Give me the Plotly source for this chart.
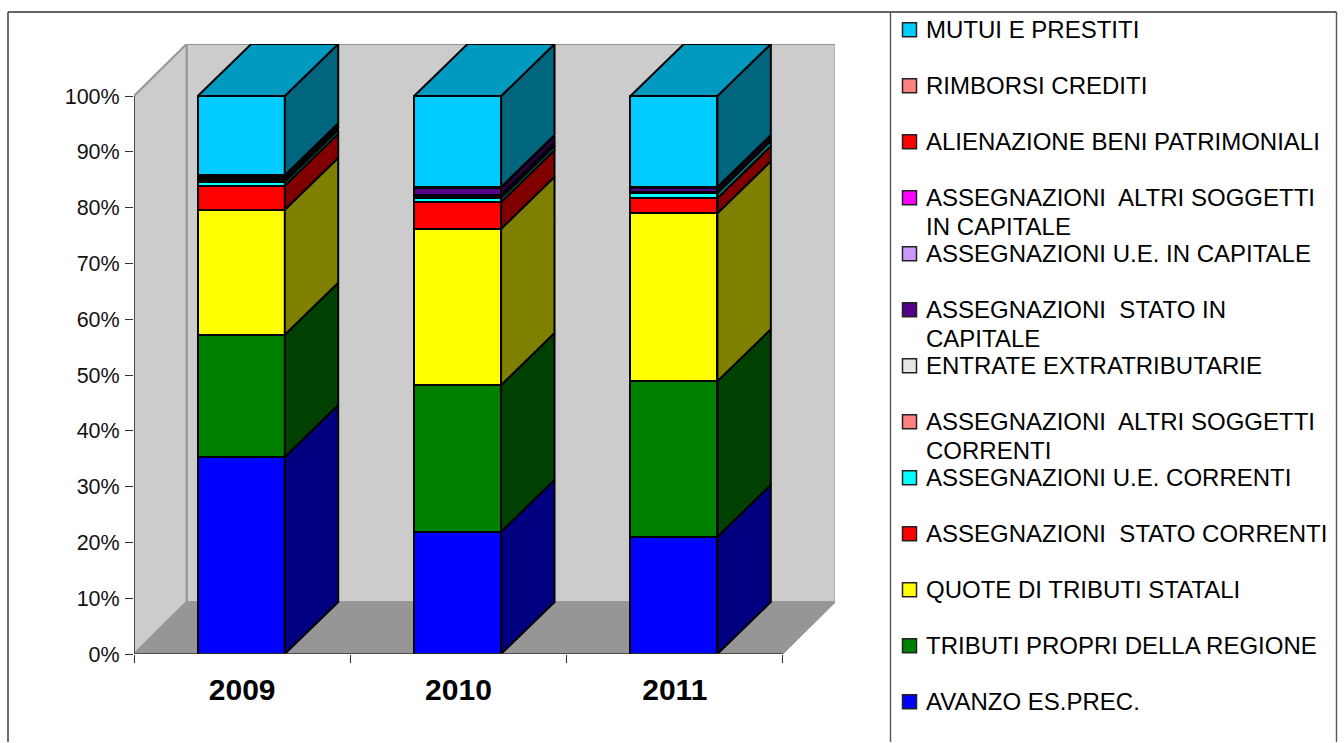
import plotly.graph_objects as go

YEARS = ["2009", "2010", "2011"]
Y_TICKS = [0, 10, 20, 30, 40, 50, 60, 70, 80, 90, 100]
Y_LABELS = ["0%", "10%", "20%", "30%", "40%", "50%", "60%", "70%", "80%", "90%", "100%"]

AVANZO = [35.3, 21.9, 21.0]
TRIBUTI_PROPRI = [21.9, 26.3, 27.9]
QUOTE_TRIBUTI = [22.4, 28.0, 30.1]
STATO_CORRENTI = [4.3, 4.8, 2.7]
UE_CORRENTI = [0.7, 0.7, 0.9]
ALTRI_CORRENTI = [0.15, 0.3, 0.1]
EXTRATRIBUTARIE = [0.15, 0.3, 0.1]
STATO_CAPITALE = [0.2, 1.2, 0.7]
UE_CAPITALE = [0.2, 0.1, 0.1]
ALTRI_CAPITALE = [0.2, 0.05, 0.05]
ALIENAZIONE = [0.1, 0.05, 0.05]
RIMBORSI = [0.2, 0.0, 0.0]
MUTUI = [14.2, 16.3, 16.3]

SERIES = [
    ("AVANZO ES.PREC.", AVANZO, "#0000FF"),
    ("TRIBUTI PROPRI DELLA REGIONE", TRIBUTI_PROPRI, "#008000"),
    ("QUOTE DI TRIBUTI STATALI", QUOTE_TRIBUTI, "#FFFF00"),
    ("ASSEGNAZIONI\u00a0 STATO CORRENTI", STATO_CORRENTI, "#FF0000"),
    ("ASSEGNAZIONI U.E. CORRENTI", UE_CORRENTI, "#00FFFF"),
    ("ASSEGNAZIONI\u00a0 ALTRI SOGGETTI<br>CORRENTI", ALTRI_CORRENTI, "#FF8080"),
    ("ENTRATE EXTRATRIBUTARIE", EXTRATRIBUTARIE, "#E6E6E6"),
    ("ASSEGNAZIONI\u00a0 STATO IN<br>CAPITALE", STATO_CAPITALE, "#550088"),
    ("ASSEGNAZIONI U.E. IN CAPITALE", UE_CAPITALE, "#CC99FF"),
    ("ASSEGNAZIONI\u00a0 ALTRI SOGGETTI<br>IN CAPITALE", ALTRI_CAPITALE, "#FF00FF"),
    ("ALIENAZIONE BENI PATRIMONIALI", ALIENAZIONE, "#FF0000"),
    ("RIMBORSI CREDITI", RIMBORSI, "#FF8080"),
    ("MUTUI E PRESTITI", MUTUI, "#00CCFF"),
]

W, H = 1344, 743
FONT = "Liberation Sans, Arial, sans-serif"
BAR_W = 0.402
BAR_SHIFT = -0.004  # bars sit very slightly left of the category centre
DX_BAR = 0.247      # bar depth in x-axis units
DX = 0.243          # wall depth in x-axis units
DY = 9.32           # depth in y-axis units
X_LEFT, X_RIGHT = -0.5, 2.5
Y_TOP = 100


def px(x):
    return x / W


def py(y):
    return 1 - y / H


def shade(color, k):
    r, g, b = (int(color[i:i + 2], 16) for i in (1, 3, 5))
    return f"rgb({round(r * k)},{round(g * k)},{round(b * k)})"


fig = go.Figure()
cats = list(range(len(YEARS)))

# front faces
for name, vals, color in SERIES:
    fig.add_trace(go.Bar(
        x=cats, y=vals, name=name.replace("<br>", " "), width=BAR_W,
        offset=-BAR_W / 2 + BAR_SHIFT,
        marker=dict(color=color, line=dict(color="#000000", width=2)),
        showlegend=False,
    ))

# side and top faces, derived from the same values
base = [0.0] * len(YEARS)
for name, vals, color in SERIES:
    xs, ys = [], []
    for j in cats:
        xr = j + BAR_W / 2 + BAR_SHIFT
        b, t = base[j], base[j] + vals[j]
        xs += [xr, xr + DX_BAR, xr + DX_BAR, xr, xr, None]
        ys += [b, b + DY, t + DY, t, b, None]
        base[j] = t
    fig.add_trace(go.Scatter(
        x=xs, y=ys, mode="lines", fill="toself", fillcolor=shade(color, 0.5),
        line=dict(color="#000000", width=2), hoverinfo="skip", showlegend=False,
    ))
xs, ys = [], []
for j in cats:
    xl, xr = j - BAR_W / 2 + BAR_SHIFT, j + BAR_W / 2 + BAR_SHIFT
    t = base[j]
    xs += [xl, xr, xr + DX_BAR, xl + DX_BAR, xl, None]
    ys += [t, t, t + DY, t + DY, t, None]
fig.add_trace(go.Scatter(
    x=xs, y=ys, mode="lines", fill="toself", fillcolor=shade(SERIES[-1][2], 0.75),
    line=dict(color="#000000", width=2), hoverinfo="skip", showlegend=False,
))

# axis lines, limited to the front plane
fig.add_trace(go.Scatter(
    x=[X_LEFT, X_LEFT, None, X_LEFT, X_RIGHT], y=[0, Y_TOP, None, 0, 0], mode="lines",
    line=dict(color="#333333", width=1.5), hoverinfo="skip", showlegend=False,
))

shapes = []
GRAY = "#969696"
# back wall, left wall, floor
shapes.append(dict(type="path", xref="x", yref="y", layer="below",
                   path=f"M{X_LEFT + DX},{DY} L{X_RIGHT + DX},{DY} L{X_RIGHT + DX},{Y_TOP + DY} L{X_LEFT + DX},{Y_TOP + DY} Z",
                   fillcolor="#CCCCCC", line=dict(color=GRAY, width=2)))
shapes.append(dict(type="path", xref="x", yref="y", layer="below",
                   path=f"M{X_LEFT},0 L{X_LEFT + DX},{DY} L{X_LEFT + DX},{Y_TOP + DY} L{X_LEFT},{Y_TOP} Z",
                   fillcolor="#CCCCCC", line=dict(color=GRAY, width=2)))
shapes.append(dict(type="path", xref="x", yref="y", layer="below",
                   path=f"M{X_LEFT},0 L{X_RIGHT},0 L{X_RIGHT + DX},{DY} L{X_LEFT + DX},{DY} Z",
                   fillcolor=GRAY, line=dict(color=GRAY, width=1)))

# outer frame and legend frame
for x0, y0, x1, y1, c in [
    (8, 12, 1336.5, 12, "#333333"),
    (8, 12, 8, 742, "#333333"),
    (1336.5, 12, 1336.5, 742, "#555555"),
    (890.5, 12, 890.5, 742, "#555555"),
]:
    shapes.append(dict(type="line", xref="paper", yref="paper", x0=px(x0), x1=px(x1),
                       y0=py(y0), y1=py(y1), line=dict(color=c, width=1.4)))

# legend, top entry first
annotations = []
LEGEND_TOP, LEGEND_STEP, LINE_STEP = 29.8, 56.0, 28.5
for i, (name, vals, color) in enumerate(reversed(SERIES)):
    yc = LEGEND_TOP + i * LEGEND_STEP
    shapes.append(dict(type="rect", xref="paper", yref="paper",
                       x0=px(902.5), x1=px(916.5), y0=py(yc - 7), y1=py(yc + 7),
                       fillcolor=color, line=dict(color="#222222", width=1.5)))
    for k, part in enumerate(name.split("<br>")):
        annotations.append(dict(
            xref="paper", yref="paper", x=px(924), y=py(yc + k * LINE_STEP),
            xanchor="left", yanchor="middle", text=part, showarrow=False,
            font=dict(family=FONT, size=24, color="#000000"),
        ))

fig.update_layout(
    width=W, height=H, autosize=False,
    margin=dict(l=0, r=0, t=0, b=0, pad=0, autoexpand=False),
    paper_bgcolor="#FFFFFF", plot_bgcolor="rgba(0,0,0,0)",
    barmode="stack", bargap=0,
    shapes=shapes, annotations=annotations,
    xaxis=dict(
        domain=[px(134), px(835)],
        range=[X_LEFT, (835 - 242.2) / 216.3],
        tickmode="array", tickvals=cats, ticktext=YEARS,
        ticks="", showline=False, showgrid=False, zeroline=False, automargin=False,
        tickfont=dict(family=FONT, size=30, color="#000000", weight="bold"),
        ticklabelstandoff=15,
        minor=dict(tickmode="array", tickvals=[-0.5, 0.5, 1.5, 2.5], ticks="outside",
                   ticklen=8, tickwidth=1.2, tickcolor="#333333", showgrid=False),
    ),
    yaxis=dict(
        domain=[py(654), py(44)],
        range=[0, (654 - 44) / 5.58],
        tickmode="array", tickvals=Y_TICKS, ticktext=Y_LABELS,
        ticks="outside", ticklen=8, tickwidth=1.2, tickcolor="#333333",
        showline=False, showgrid=False, zeroline=False, automargin=False,
        tickfont=dict(family=FONT, size=21.5, color="#111111"),
        ticklabelstandoff=1,
    ),
)

fig.write_html("out.html", post_script="document.body.style.margin='0';",
               config=dict(displayModeBar=False))
